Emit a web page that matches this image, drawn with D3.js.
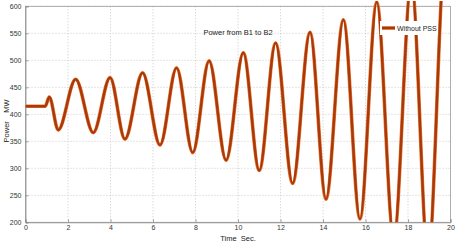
<!DOCTYPE html>
<html>
<head>
<meta charset="utf-8">
<script src="https://cdn.jsdelivr.net/npm/d3@7"></script>
<style>
  body { margin: 0; background: #fff; }
  svg { display: block; font-family: "Liberation Sans", Arial, sans-serif; }
</style>
</head>
<body>
<div id="chart"></div>
<script>
// Power from B1 to B2 (MW) read at the turning points of the swing
const timeSec = [0, 0.93, 1.12, 1.54, 2.36, 3.19, 3.98, 4.68, 5.51, 6.33, 7.11, 7.87, 8.64,
  9.44, 10.25, 11.0, 11.77, 12.57, 13.39, 14.14, 14.96, 15.74, 16.53, 17.33, 18.16, 18.95, 19.75, 20];
const powerMW = [415, 415, 432, 371, 465, 366, 468, 354, 477, 343, 486, 329, 499,
  315, 514, 296, 532, 272, 552, 243, 575, 206, 608, 170, 645, 135, 690, 675];
const xTicks = [0, 2, 4, 6, 8, 10, 12, 14, 16, 18, 20];
const yTicks = [200, 250, 300, 350, 400, 450, 500, 550, 600];

const W = 457, H = 243;
const margin = { top: 6.3, right: 6.5, bottom: 20.7, left: 25.5 };
const width = W - margin.left - margin.right,
  height = H - margin.top - margin.bottom;

const svg = d3.select("#chart").append("svg")
  .attr("width", W)
  .attr("height", H);

const g = svg.append("g")
  .attr("transform", `translate(${margin.left} ${margin.top})`);

const x = d3.scaleLinear().domain([0, 20]).range([0, width]);
const y = d3.scaleLinear().domain([200, 600]).range([height, 0]);

// dotted grid
g.append("g").selectAll("line").data(xTicks.slice(1, -1)).join("line")
  .attr("x1", d => x(d)).attr("x2", d => x(d))
  .attr("y1", 0).attr("y2", height)
  .attr("stroke", "#bdbdbd").attr("stroke-width", 0.8)
  .attr("stroke-dasharray", "1,2");
g.append("g").selectAll("line").data(yTicks.slice(1)).join("line")
  .attr("x1", 0).attr("x2", width)
  .attr("y1", d => y(d)).attr("y2", d => y(d))
  .attr("stroke", "#bdbdbd").attr("stroke-width", 0.8)
  .attr("stroke-dasharray", "1,2");

// box
g.append("rect")
  .attr("x", 0).attr("y", 0)
  .attr("width", width).attr("height", height)
  .attr("fill", "none").attr("stroke", "#9a9a9a").attr("stroke-width", 0.8);

// axes
const xAxis = g.append("g")
  .attr("transform", `translate(0 ${height})`)
  .call(d3.axisBottom(x).tickValues(xTicks).tickSize(-3).tickPadding(3));
const yAxis = g.append("g")
  .call(d3.axisLeft(y).tickValues(yTicks).tickSize(-3).tickPadding(4));
[xAxis, yAxis].forEach(a => {
  a.select(".domain").attr("stroke", "#8a8a8a").attr("stroke-width", 0.8);
  a.selectAll(".tick line").attr("stroke", "#8a8a8a").attr("stroke-width", 0.8);
  a.selectAll("text").attr("font-size", 7).attr("fill", "#333")
    .attr("font-family", "Liberation Sans, Arial, sans-serif");
});

// clip: bottom at axis, top a little above 600
svg.append("clipPath").attr("id", "clip")
  .append("rect").attr("x", 0).attr("y", -margin.top + 1)
  .attr("width", width).attr("height", height + margin.top - 1);

const line = d3.line()
  .x((d, i) => x(timeSec[i]))
  .y(d => y(d))
  .curve(d3.curveMonotoneX);

const lines = g.append("g").attr("clip-path", "url(#clip)");
lines.append("path")
  .attr("d", line(powerMW))
  .attr("fill", "none").attr("stroke", "#e8782a").attr("stroke-width", 3.6);
lines.append("path")
  .attr("d", line(powerMW))
  .attr("fill", "none").attr("stroke", "#a8380e").attr("stroke-width", 2.4);

// title inside plot
svg.append("text")
  .attr("x", 238).attr("y", 35)
  .attr("text-anchor", "middle")
  .attr("font-size", 7.5).attr("fill", "#222")
  .text("Power from B1 to B2");

// legend
const leg = svg.append("g").attr("transform", "translate(380 21)");
leg.append("rect").attr("width", 58).attr("height", 14).attr("fill", "#fff");
leg.append("line").attr("x1", 2).attr("x2", 15).attr("y1", 7).attr("y2", 7)
  .attr("stroke", "#e8782a").attr("stroke-width", 3.6);
leg.append("line").attr("x1", 2).attr("x2", 15).attr("y1", 7).attr("y2", 7)
  .attr("stroke", "#a8380e").attr("stroke-width", 2.4);
leg.append("text").attr("x", 17).attr("y", 9.5)
  .attr("font-size", 7).attr("fill", "#222")
  .text("Without PSS");

// axis labels (nbsp keeps the wide gaps)
svg.append("text")
  .attr("x", 238).attr("y", 241)
  .attr("text-anchor", "middle")
  .attr("font-size", 7.5).attr("fill", "#222")
  .text("Time\u00a0\u00a0Sec.");
svg.append("text")
  .attr("transform", "translate(9 121) rotate(-90)")
  .attr("text-anchor", "middle")
  .attr("font-size", 7.5).attr("fill", "#222")
  .text("Power\u00a0\u00a0\u00a0\u00a0MW");
</script>
</body>
</html>
